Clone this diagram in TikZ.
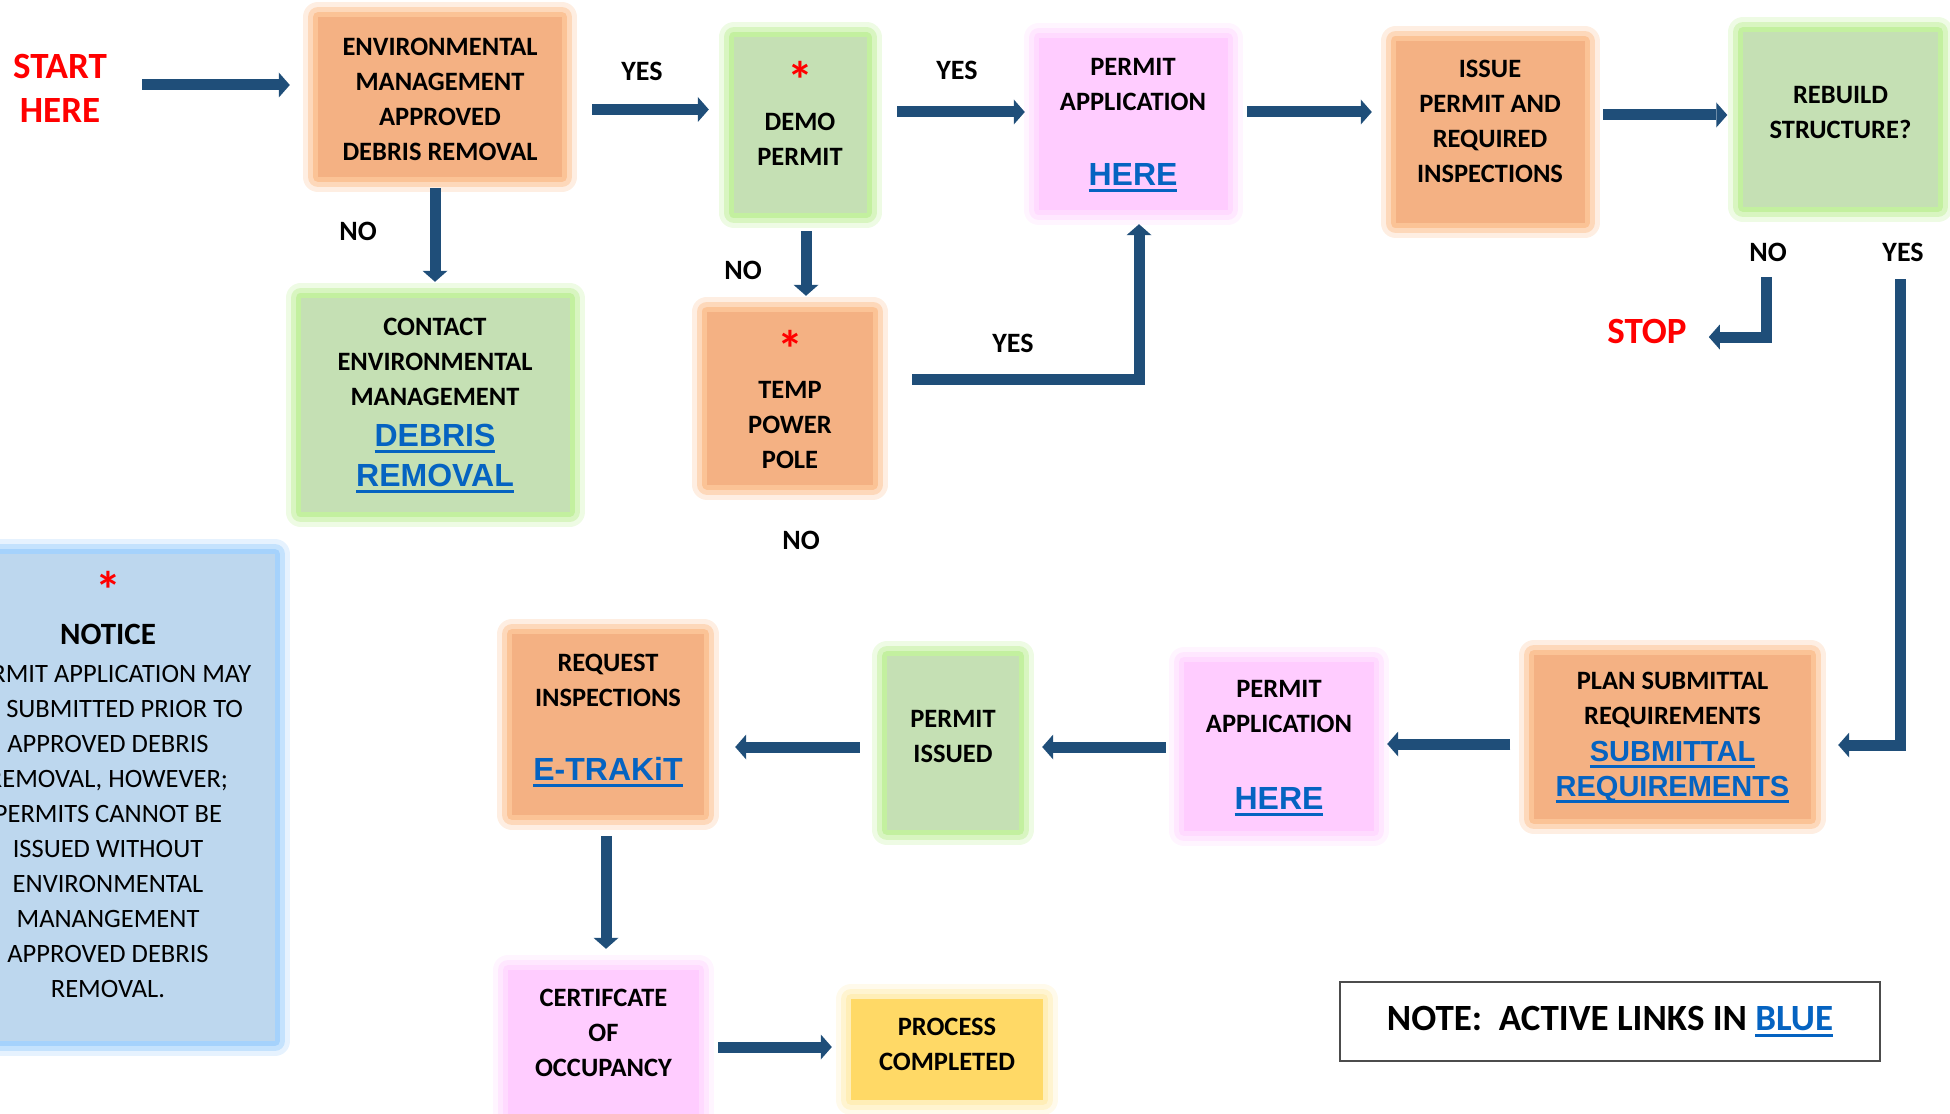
\documentclass[tikz,border=0pt]{standalone}
\usepackage{fontspec}
\setmainfont{Carlito}
\newfontfamily\linkfont{Liberation Sans}
\usetikzlibrary{arrows.meta}
\usetikzlibrary{calc}

\definecolor{arrowblue}{RGB}{31,78,121}
\definecolor{orfill}{RGB}{244,177,131}
\definecolor{orglow}{RGB}{251,188,138}
\definecolor{grfill}{RGB}{197,224,180}
\definecolor{grglow}{RGB}{188,238,148}
\definecolor{pkfill}{RGB}{255,204,255}
\definecolor{pkglow}{RGB}{255,214,255}
\definecolor{ylfill}{RGB}{255,217,102}
\definecolor{ylglow}{RGB}{255,236,175}
\definecolor{blfill}{RGB}{189,215,238}
\definecolor{blglow}{RGB}{155,205,252}
\definecolor{linkblue}{RGB}{5,99,193}

\newcommand\linkul[1]{\setbox0=\hbox{#1}\rlap{\raisebox{-6.5pt}[0pt][0pt]{\rule{\wd0}{3pt}}}\box0}
\newcommand\weblink[2][32]{{\linkfont\bfseries\fontsize{#1}{35}\selectfont\color{linkblue}\linkul{#2}}}
\newcommand\bluetext[1]{{\color{linkblue}\linkul{#1}}}
\newcommand\redstar{{\fontsize{52}{35}\selectfont\bfseries\color{red}\raisebox{-12pt}[20pt][0pt]{*}}}

\tikzstyle{every node}=[font=\fontsize{26.5}{35}\selectfont\bfseries, inner sep=0pt, align=center]
\tikzset{glow/.style={preaction={draw=#1, draw opacity=.25, line width=30pt, line join=round},
    preaction={draw=#1, draw opacity=.45, line width=20pt, line join=round},
    preaction={draw=#1, draw opacity=.75, line width=10pt, line join=round}}}
\tikzstyle{orbox}=[fill=orfill, glow=orglow]
\tikzstyle{grbox}=[fill=grfill, glow=grglow]
\tikzstyle{pkbox}=[fill=pkfill, glow=pkglow]
\tikzstyle{ylbox}=[fill=ylfill, glow=ylglow]
\tikzstyle{blbox}=[fill=blfill, glow=blglow]
\tikzstyle{answer}=[font=\fontsize{28}{35}\selectfont\bfseries]
\tikzstyle{redword}=[font=\fontsize{37}{44}\selectfont\bfseries, text=red]
\tikzstyle{flow}=[draw=arrowblue, line width=11pt, line cap=butt, line join=miter,
    -{Triangle[length=11pt, width=25pt, line width=0pt]}]

\begin{document}
\begin{tikzpicture}[x=1pt, y=-1pt]
  \useasboundingbox (0,0) rectangle (1950,1113);
  \clip (0,0) rectangle (1950,1113);

  % top row
  \node[redword] (start) at (60,88) {START\\HERE};
  \node[orbox, minimum width=244pt, minimum height=160pt] (env) at (440,97)
    {\mbox{}\\[-13pt]ENVIRONMENTAL\\MANAGEMENT\\APPROVED\\DEBRIS REMOVAL};
  \node[grbox, minimum width=269pt, minimum height=214pt] (contact) at (435,405)
    {CONTACT\\ENVIRONMENTAL\\MANAGEMENT\\[6pt]\weblink{DEBRIS}\\[5pt]\weblink{REMOVAL}\\[-29pt]\mbox{}};
  \node[grbox, minimum width=133pt, minimum height=175pt] (demo) at (800,125)
    {\redstar\\[9pt]DEMO\\PERMIT\\[-16.5pt]\mbox{}};
  \node[orbox, minimum width=166pt, minimum height=173pt] (temp) at (790,398)
    {\mbox{}\\[-6pt]\redstar\\[8pt]TEMP\\POWER\\POLE};
  \node[pkbox, minimum width=189pt, minimum height=172pt] (permitA) at (1133,124)
    {PERMIT\\APPLICATION\\[40pt]\weblink{HERE}\\[-31pt]\mbox{}};
  \node[orbox, minimum width=189pt, minimum height=182pt] (issue) at (1490,132)
    {ISSUE\\PERMIT AND\\REQUIRED\\INSPECTIONS\\[-13pt]\mbox{}};
  \node[grbox, minimum width=195pt, minimum height=175pt] (rebuild) at (1840.5,119.5)
    {REBUILD\\STRUCTURE?\\[-21pt]\mbox{}};
  \node[redword] (stop) at (1647,331) {STOP};

  % bottom row
  \node[orbox, minimum width=277pt, minimum height=164pt] (plan) at (1672.5,737)
    {PLAN SUBMITTAL\\REQUIREMENTS\\[2pt]\weblink[29]{SUBMITTAL}\\\weblink[29]{REQUIREMENTS}};
  \node[pkbox, minimum width=190pt, minimum height=169pt] (permitB) at (1279,746.5)
    {PERMIT\\APPLICATION\\[42pt]\weblink{HERE}\\[-31pt]\mbox{}};
  \node[grbox, minimum width=132pt, minimum height=174pt] (issued) at (953,743)
    {PERMIT\\ISSUED\\[-22pt]\mbox{}};
  \node[orbox, minimum width=192pt, minimum height=181pt] (request) at (608,724.5)
    {REQUEST\\INSPECTIONS\\[39pt]\weblink{E-TRAKiT}\\[-20pt]\mbox{}};
  \node[pkbox, minimum width=191pt, minimum height=150pt] (cert) at (603.5,1045)
    {CERTIFCATE\\OF\\OCCUPANCY\\[-10pt]\mbox{}};
  \node[ylbox, minimum width=192pt, minimum height=101pt] (process) at (947,1049.5)
    {PROCESS\\COMPLETED\\[-24pt]\mbox{}};

  \node[blbox, minimum width=334pt, minimum height=487pt,
    font=\fontsize{26.5}{35}\selectfont\mdseries] (notice) at (108,797.5)
    {\redstar\\[13pt]{\bfseries\fontsize{31}{35}\selectfont NOTICE}\\[2.5pt]PERMIT APPLICATION MAY\\BE SUBMITTED PRIOR TO\\APPROVED DEBRIS\\REMOVAL, HOWEVER;\\PERMITS CANNOT BE\\ISSUED WITHOUT\\ENVIRONMENTAL\\MANANGEMENT\\APPROVED DEBRIS\\REMOVAL.\\[-14pt]\mbox{}};
  \node[fill=white, draw=black!70, line width=1.5pt, minimum width=540pt, minimum height=79pt,
    font=\fontsize{37}{44}\selectfont\bfseries] (note) at (1610,1021.5)
    {NOTE:\ \ ACTIVE LINKS IN \bluetext{BLUE}\\[-38pt]\mbox{}};

  % answers
  \node[answer] (noEnv) at (358,231) {NO};
  \node[answer] (yesEnv) at (642,71) {YES};
  \node[answer] (yesDemo) at (957,70) {YES};
  \node[answer] (noDemo) at (743,270) {NO};
  \node[answer] (yesTemp) at (1013,343) {YES};
  \node[answer] (noTemp) at (801,540) {NO};
  \node[answer] (noRebuild) at (1768,252) {NO};
  \node[answer] (yesRebuild) at (1903,252) {YES};

  % connectors
  \draw[flow] ($(start.east)+(35,-3)$) -- ($(env.west)+(-28,-12)$);
  \draw[flow] ($(env.east)+(30,12.5)$) -- ($(demo.west)+(-24.5,-15.5)$);
  \draw[flow] ($(demo.east)+(30.5,-13)$) -- ($(permitA.west)+(-13.5,-12)$);
  \draw[flow] ($(permitA.east)+(19.5,-12)$) -- ($(issue.west)+(-23.5,-20)$);
  \draw[flow] ($(issue.east)+(18.5,-17)$) -- ($(rebuild.west)+(-15.5,-4.5)$);
  \draw[flow] ($(env.south)+(-5,11)$) -- ($(contact.north)+(0,-16)$);
  \draw[flow] ($(demo.south)+(6,18.5)$) -- ($(temp.north)+(16,-15.5)$);
  \draw[flow] ($(temp.east)+(39,-19)$) -| ($(permitA.south)+(6,14)$);
  \draw[flow] ($(rebuild.south)+(-74.5,70)$) |- ($(stop.east)+(22,6)$);
  \draw[flow] ($(rebuild.south)+(59.5,72)$) |- ($(plan.east)+(27,8)$);
  \draw[flow] ($(plan.west)+(-23.5,7)$) -- ($(permitB.east)+(13,-2.5)$);
  \draw[flow] ($(permitB.west)+(-18,0.5)$) -- ($(issued.east)+(23,4)$);
  \draw[flow] ($(issued.west)+(-27,4)$) -- ($(request.east)+(31,22.5)$);
  \draw[flow] ($(request.south)+(-2,21)$) -- ($(cert.north)+(2.5,-21)$);
  \draw[flow] ($(cert.east)+(19,2)$) -- ($(process.west)+(-19,-2.5)$);
\end{tikzpicture}
\end{document}
